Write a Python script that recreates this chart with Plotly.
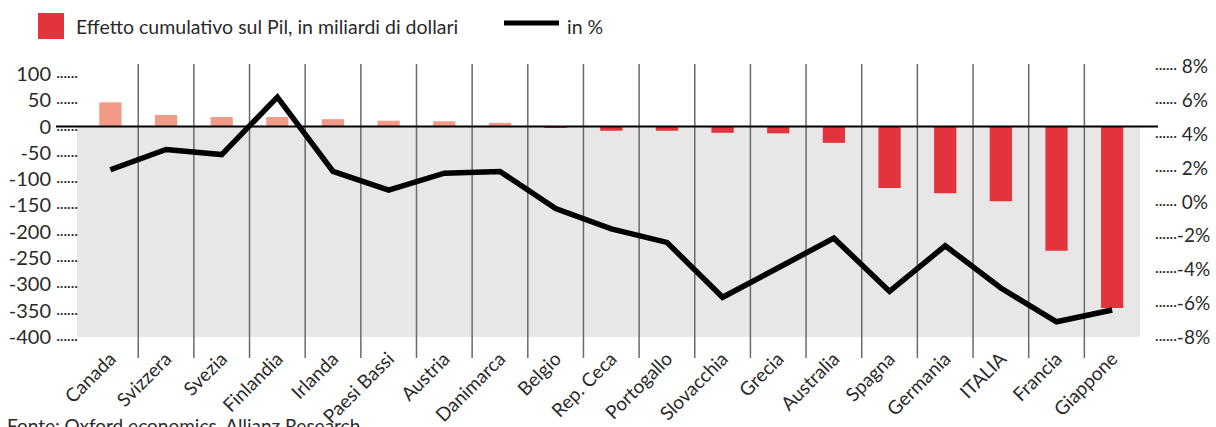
import plotly.graph_objects as go

categories = ["Canada", "Svizzera", "Svezia", "Finlandia", "Irlanda", "Paesi Bassi",
              "Austria", "Danimarca", "Belgio", "Rep. Ceca", "Portogallo", "Slovacchia",
              "Grecia", "Australia", "Spagna", "Germania", "ITALIA", "Francia", "Giappone"]
gdp_effect = [46, 22, 18, 18, 14, 11, 10, 7, -2, -8, -8, -12, -13, -31,
              -117, -127, -142, -236, -345]
pct_effect = [1.9, 3.1, 2.8, 6.2, 1.8, 0.7, 1.7, 1.8, -0.4, -1.6, -2.4, -5.65,
              -3.9, -2.15, -5.3, -2.6, -5.1, -7.1, -6.4]

left_ticks = [100, 50, 0, -50, -100, -150, -200, -250, -300, -350, -400]
right_ticks = [8, 6, 4, 2, 0, -2, -4, -6, -8]

legend_bar = "Effetto cumulativo sul Pil, in miliardi di dollari"
legend_line = "in %"
source = "Fonte: Oxford economics, Allianz Research"

FONT = "Lato"
TXT = "#2a2a2a"
POS = "#F19B86"
NEG = "#E3343D"
DOTS = '<span style="font-size:14px">······</span>'

W, H = 1216, 427
L, R, T, B = 77, 76, 64, 90
pw, ph = W - L - R, H - T - B

bar_colors = [POS if v > 0 else NEG for v in gdp_effect]

fig = go.Figure()
fig.add_trace(go.Bar(x=categories, y=gdp_effect, marker=dict(color=bar_colors, line=dict(width=0)),
                     yaxis="y", showlegend=False, hoverinfo="x+y"))
fig.add_trace(go.Scatter(x=categories, y=pct_effect, mode="lines", yaxis="y2",
                         line=dict(color="black", width=5.5), showlegend=False))

shapes = []
shapes.append(dict(type="rect", xref="paper", yref="y", x0=0, x1=1, y0=min(left_ticks), y1=0,
                   fillcolor="#E9E6E7", line=dict(width=0), layer="below"))
for i in range(len(categories) - 1):
    shapes.append(dict(type="line", xref="x", yref="paper", x0=i + 0.5, x1=i + 0.5,
                       y0=-21 / ph, y1=1, line=dict(color="#6a6a6a", width=1.5), layer="below"))
shapes.append(dict(type="line", xref="paper", yref="y", x0=(56 - L) / pw, x1=(1158 - L) / pw,
                   y0=0, y1=0, line=dict(color="black", width=2), layer="above"))
shapes.append(dict(type="rect", xref="paper", yref="paper",
                   x0=(38 - L) / pw, x1=(64 - L) / pw,
                   y0=(H - B - 39) / ph, y1=(H - B - 13) / ph,
                   fillcolor=NEG, line=dict(width=0)))
shapes.append(dict(type="line", xref="paper", yref="paper",
                   x0=(504 - L) / pw, x1=(559 - L) / pw,
                   y0=(H - B - 23) / ph, y1=(H - B - 23) / ph,
                   line=dict(color="black", width=5)))

annotations = [
    dict(text=legend_bar, xref="paper", yref="paper", x=(74 - L) / pw, y=(H - B - 26) / ph,
         xanchor="left", yanchor="middle", showarrow=False, font=dict(family=FONT, size=19.5, color=TXT)),
    dict(text=legend_line, xref="paper", yref="paper", x=(565 - L) / pw, y=(H - B - 26) / ph,
         xanchor="left", yanchor="middle", showarrow=False, font=dict(family=FONT, size=19.5, color=TXT)),
    dict(text=source, xref="paper", yref="paper", x=(5 - L) / pw, y=(H - B - 439) / ph,
         xanchor="left", yanchor="bottom", showarrow=False, font=dict(family=FONT, size=19, color=TXT)),
]

fig.update_layout(
    width=W, height=H,
    margin=dict(l=L, r=R, t=T, b=B, autoexpand=False),
    paper_bgcolor="white", plot_bgcolor="white",
    bargap=0.6,
    shapes=shapes, annotations=annotations,
    showlegend=False,
    xaxis=dict(type="category", range=[-0.6, len(categories) - 0.5], tickangle=-45,
               showgrid=False, zeroline=False, showline=False, ticks="", automargin=False,
               ticklabelstandoff=6,
               tickfont=dict(family=FONT, size=19, color=TXT)),
    yaxis=dict(range=[-400, 118.8], tickvals=left_ticks,
               ticktext=[f"{v} {DOTS}" for v in left_ticks],
               showgrid=False, zeroline=False, showline=False, ticks="", automargin=False,
               ticklabelstandoff=-2,
               tickfont=dict(family=FONT, size=20, color=TXT)),
    yaxis2=dict(range=[-8, 8.16], overlaying="y", side="right", tickvals=right_ticks,
                ticktext=[(DOTS + (" " if v >= 0 else "") + f"{v}%") for v in right_ticks],
                showgrid=False, zeroline=False, showline=False, ticks="", automargin=False,
                ticklabelstandoff=14,
                tickfont=dict(family=FONT, size=19, color=TXT)),
)

fig.write_html("out.html")
